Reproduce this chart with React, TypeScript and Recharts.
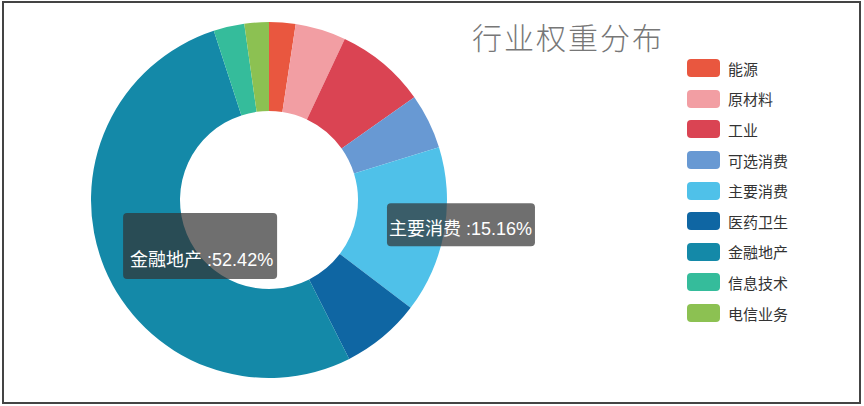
import React from 'react'
import { PieChart, Pie, Cell, Legend } from 'recharts'

// sector names, weights (%) and colours, clockwise from 12 o'clock
const sectors = ['能源', '原材料', '工业', '可选消费', '主要消费', '医药卫生', '金融地产', '信息技术', '电信业务']
const weights = [2.4, 4.6, 8.2, 5.0, 15.16, 7.2, 52.42, 2.8, 2.22]
const colors = ['#e9573f', '#f29ea3', '#da4453', '#6899d3', '#4fc1e9', '#0f66a3', '#1489a8', '#35bc9b', '#8cc152']

// which slices carry a callout box
const shownLabels = ['主要消费', '金融地产']

const title = '行业权重分布'

const FONT = '"Liberation Sans", "Noto Sans CJK SC", sans-serif'
const CJK = '"Noto Sans CJK SC", "Noto Sans", sans-serif'
const RADIAN = Math.PI / 180

const data = sectors.map((name, i) => ({ name, value: weights[i] }))

// box offsets relative to the slice's mid point
const boxStyle: Record<string, { dx: number; dy: number; w: number; h: number; tx: number; ty: number }> = {
  金融地产: { dx: -22.5, dy: -38, w: 154, h: 66, tx: -15.5, ty: 15.5 },
  主要消费: { dx: -13.5, dy: -20, w: 148, h: 43, tx: -11.5, ty: 11.5 },
}

function renderLabel(props: any) {
  const { cx, cy, midAngle, innerRadius, outerRadius, name, value } = props
  if (!shownLabels.includes(name)) return null
  const r = (innerRadius + outerRadius) / 2
  const x = cx + r * Math.cos(-midAngle * RADIAN)
  const y = cy + r * Math.sin(-midAngle * RADIAN)
  const s = boxStyle[name]
  return (
    <g>
      <rect x={x + s.dx} y={y + s.dy} width={s.w} height={s.h} rx={4} fill="rgba(50,50,50,0.7)" />
      <text x={x + s.tx} y={y + s.ty} fill="#fff" fontSize={18} fontFamily={FONT}>
        {`${name} :${value.toFixed(2)}%`}
      </text>
    </g>
  )
}

function renderLegend() {
  return (
    <div style={{ fontFamily: CJK }}>
      {sectors.map((name, i) => (
        <div key={name} style={{ display: 'flex', alignItems: 'center', height: 30.6 }}>
          <span style={{ display: 'inline-block', width: 33, height: 18, borderRadius: 4, background: colors[i] }} />
          <span style={{ marginLeft: 8, fontSize: 15, color: '#333' }}>{name}</span>
        </div>
      ))}
    </div>
  )
}

export default function App() {
  return (
    <div style={{ position: 'absolute', left: 0, top: 0, width: 864, height: 406, background: '#fff' }}>
      <div
        style={{
          position: 'absolute', left: 2, top: 1, width: 855, height: 399,
          border: '2px solid #444',
        }}
      />
      <div
        style={{
          position: 'absolute', left: 472, top: 16, fontSize: 30, letterSpacing: 2,
          color: '#777', fontFamily: CJK, fontWeight: 300, lineHeight: '40px',
        }}
      >
        {title}
      </div>
      <PieChart
        width={864}
        height={406}
        margin={{ top: 0, right: 0, bottom: 0, left: 0 }}
        style={{ position: 'absolute', left: 0, top: 0 }}
      >
        <Pie
          data={data}
          dataKey="value"
          nameKey="name"
          cx={269}
          cy={200}
          innerRadius={89}
          outerRadius={178}
          startAngle={90}
          endAngle={-270}
          stroke="none"
          label={renderLabel}
          labelLine={false}
          isAnimationActive={false}
        >
          {data.map((d, i) => (
            <Cell key={d.name} fill={colors[i]} />
          ))}
        </Pie>
        <Legend
          content={renderLegend}
          layout="vertical"
          wrapperStyle={{ position: 'absolute', left: 687, top: 53, width: 140 }}
        />
      </PieChart>
    </div>
  )
}
